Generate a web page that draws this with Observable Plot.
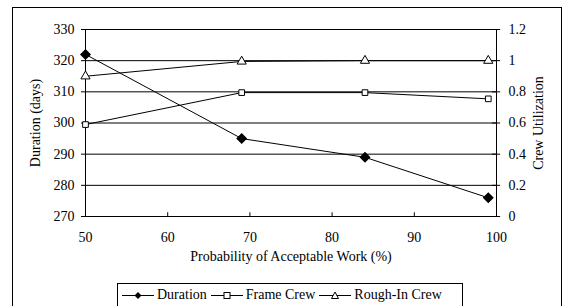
<!DOCTYPE html>
<html>
<head>
<meta charset="utf-8">
<script src="https://cdn.jsdelivr.net/npm/d3@7"></script>
<script src="https://cdn.jsdelivr.net/npm/@observablehq/plot@0.6"></script>
<style>
  html, body { margin: 0; padding: 0; background: #fff; overflow: hidden; width: 566px; height: 306px; }
  #wrap { position: relative; width: 566px; height: 306px; font-family: 'Liberation Serif', 'DejaVu Serif', serif; }
  #frame { position: absolute; left: 12px; top: 7px; width: 550px; height: 320px; border: 1px solid #000; box-sizing: border-box; }
  #chart { position: absolute; left: 0; top: 0; }
  #chart svg, #chart svg text { font-family: 'Liberation Serif', 'DejaVu Serif', serif !important; }
  #legend { position: absolute; left: 117px; top: 283px; width: 346px; height: 40px; border: 1px solid #000; box-sizing: border-box; background: #fff;
            display: flex; align-items: flex-start; padding-top: 3px; padding-left: 4px; font-size: 14px; }
  .item { display: flex; align-items: center; margin-right: 4px; white-space: nowrap; }
  .item svg { margin-right: 3px; }
</style>
</head>
<body>
<div id="wrap">
  <div id="frame"></div>
  <div id="chart"></div>
  <div id="legend"></div>
</div>
<script>
// Data
const probability = [50, 69, 84, 99];
const duration = [322, 295, 289, 276];
const frameCrew = [0.59, 0.795, 0.795, 0.755];
const roughInCrew = [0.90, 0.995, 1.0, 1.0];
const seriesNames = ["Duration", "Frame Crew", "Rough-In Crew"];
const durationTicks = [270, 280, 290, 300, 310, 320, 330];
const utilTicks = [0, 0.2, 0.4, 0.6, 0.8, 1, 1.2];
const xTicks = [50, 60, 70, 80, 90, 100];

// map utilization (0..1.2) onto the left duration scale (270..330)
const toY = u => 270 + u * 50;
const fromY = y => +((y - 270) / 50).toFixed(1);

const durRows = probability.map((p, i) => ({x: p, y: duration[i]}));
const frameRows = probability.map((p, i) => ({x: p, y: toY(frameCrew[i])}));
const roughRows = probability.map((p, i) => ({x: p, y: toY(roughInCrew[i])}));

const chart = Plot.plot({
  width: 566,
  height: 306,
  marginLeft: 85,
  marginRight: 70,
  marginTop: 29,
  marginBottom: 90,
  style: {fontFamily: "'Liberation Serif', 'DejaVu Serif', serif", fontSize: "14px", background: "transparent", color: "#000", overflow: "visible"},
  x: {domain: [50, 100]},
  y: {domain: [270, 330]},
  marks: [
    Plot.ruleY(durationTicks, {stroke: "#000", strokeWidth: 1, strokeOpacity: 1}),
    Plot.ruleX([50, 100], {stroke: "#000", strokeOpacity: 1}),
    Plot.axisY({ticks: durationTicks, tickSize: 4, tickPadding: 7, label: null, fontSize: 14, tickFormat: d => String(d)}),
    Plot.axisY({anchor: "right", ticks: utilTicks.map(toY), tickSize: 0, tickPadding: 12, label: null, fontSize: 14, tickFormat: d => String(fromY(d))}),
    Plot.ruleY(utilTicks.map(toY), {x1: 99.5, x2: 100.5, stroke: "#000"}),
    Plot.axisX({ticks: xTicks, tickSize: 0, tickPadding: 16, label: null, fontSize: 14, tickFormat: d => String(d)}),
    Plot.ruleX(xTicks, {y1: 270, y2: 271.2, stroke: "#000"}),
    Plot.line(durRows, {x: "x", y: "y", stroke: "#000", strokeWidth: 1}),
    Plot.line(frameRows, {x: "x", y: "y", stroke: "#000", strokeWidth: 1}),
    Plot.line(roughRows, {x: "x", y: "y", stroke: "#000", strokeWidth: 1}),
    Plot.dot(durRows, {x: "x", y: "y", symbol: "diamond2", r: 4, fill: "#000", stroke: "#000"}),
    Plot.dot(frameRows, {x: "x", y: "y", symbol: "square", r: 3.2, fill: "#fff", stroke: "#000", strokeWidth: 1}),
    Plot.dot(roughRows, {x: "x", y: "y", symbol: "triangle", r: 3.4, fill: "#fff", stroke: "#000", strokeWidth: 1}),
    Plot.text(["Duration (days)"], {frameAnchor: "left", textAnchor: "middle", dx: -50, rotate: -90, fontSize: 14}),
    Plot.text(["Crew Utilization"], {frameAnchor: "right", textAnchor: "middle", dx: 42, rotate: -90, fontSize: 14}),
    Plot.text(["Probability of Acceptable Work (%)"], {frameAnchor: "bottom", dy: 44, fontSize: 14})
  ]
});
document.getElementById("chart").appendChild(chart);

// Legend
const symbols = {
  "Duration": '<path d="M16,3 L19.5,6.5 L16,10 L12.5,6.5 Z" fill="#000"/>',
  "Frame Crew": '<rect x="13" y="3.5" width="6" height="6" fill="#fff" stroke="#000"/>',
  "Rough-In Crew": '<path d="M16,3 L19.5,9.5 L12.5,9.5 Z" fill="#fff" stroke="#000"/>'
};
const legend = document.getElementById("legend");
seriesNames.forEach(name => {
  const item = document.createElement("div");
  item.className = "item";
  item.innerHTML = '<svg width="32" height="13"><line x1="0" x2="32" y1="6.5" y2="6.5" stroke="#000"/>' + symbols[name] + '</svg><span>' + name + '</span>';
  legend.appendChild(item);
});
</script>
</body>
</html>
